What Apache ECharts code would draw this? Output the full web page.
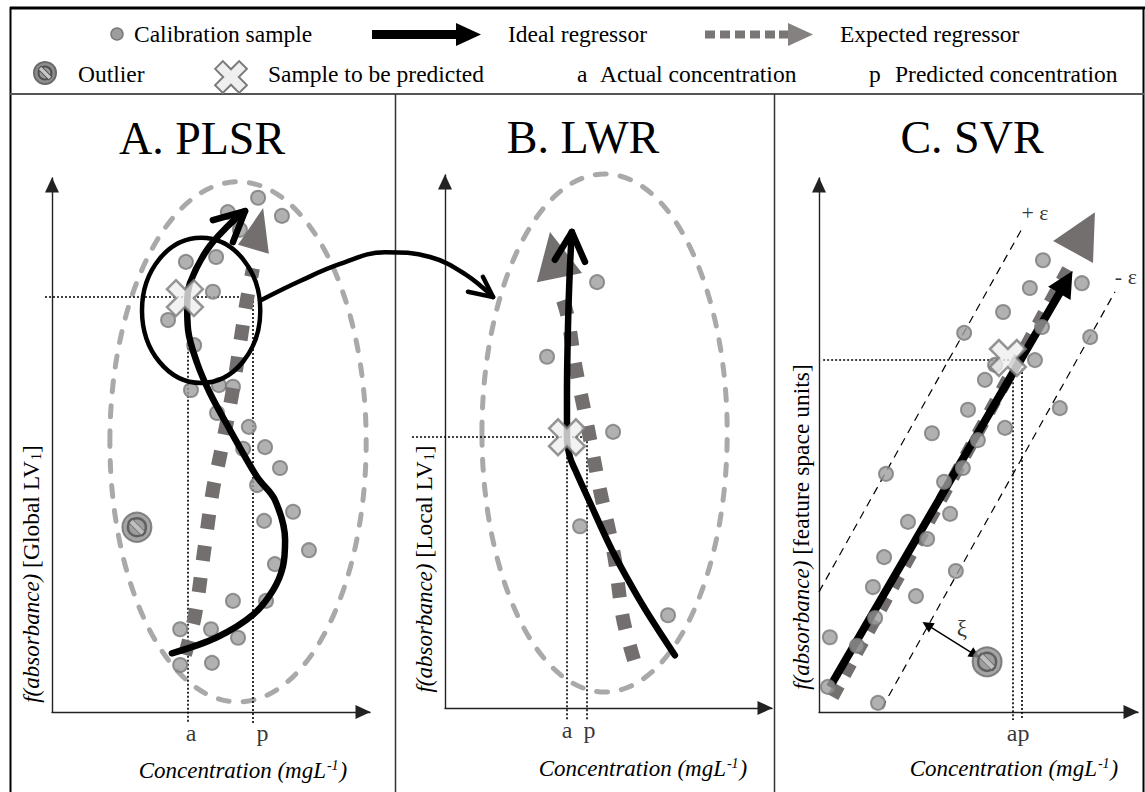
<!DOCTYPE html>
<html><head><meta charset="utf-8">
<script src="https://cdn.jsdelivr.net/npm/echarts@6/dist/echarts.min.js"></script>
<style>html,body{margin:0;padding:0;background:#fff}#c{width:1145px;height:792px}</style>
</head><body><div id="c"></div>
<script>
// ---------------- text ----------------
const panelTitles = ['A. PLSR', 'B. LWR', 'C. SVR'];
const yTitles = ['{i|f(absorbance)} [Global LV{s|1}]', '{i|f(absorbance)} [Local LV{s|1}]', '{i|f(absorbance)} [feature space units]'];
const xTitle = '{i|Concentration (mgL}{sup|-1}{i|)}';
const legendRow1 = ['Calibration sample', 'Ideal regressor', 'Expected regressor'];
const legendRow2 = ['Outlier', 'Sample to be predicted', 'a', 'Actual concentration', 'p', 'Predicted concentration'];

// ---------------- panel A : PLSR ----------------
const aSamples = [[6.48,9.63],[5.53,9.36],[7.23,9.29],[5.91,9.03],[4.21,8.43],[5.16,8.52],[5.06,7.87],[3.65,7.34],[4.47,6.87],[4.37,6.03],[5.25,6.12],[5.69,6.09],[5.19,5.60],[6.19,5.34],[6.01,4.93],[6.70,4.96],[7.17,4.57],[6.45,4.25],[7.58,3.75],[6.67,3.58],[8.08,3.03],[7.01,2.77],[5.69,2.08],[6.73,2.08],[4.03,1.55],[5.00,1.55],[5.85,1.39],[4.03,0.88],[5.03,0.92]];
const aIdeal = [[3.77,1.10],[5.19,1.40],[6.32,1.82],[6.95,2.28],[7.26,2.72],[7.33,3.22],[7.01,3.97],[6.45,4.40],[5.60,5.28],[4.97,5.97],[4.56,6.54],[4.28,7.15],[4.25,7.62],[4.34,8.03],[4.87,8.65],[5.53,9.10],[6.07,9.38]];
const aIdealHead = [[5.06,9.21],[6.07,9.38],[5.69,8.80]];
const aExpected = [[4.18,1.07],[4.50,1.82],[4.78,3.00],[5.06,4.16],[5.28,4.78],[5.66,5.94],[5.97,7.12],[6.13,7.72],[6.32,8.31]];
const aExpectedHead = [[6.64,9.44,5.85,8.75,6.82,8.58]];
const aOutlier = [[2.67,3.46]];
const aSample = [[4.18,7.75]];
const aGlobalRegion = [[5.85,5.06,4.03,4.87]];
const aLocalRegion = [[4.69,7.52,1.86,1.36]];
const aGuides = [[[-0.22,7.77],[6.30,7.77]],[[4.28,7.72],[4.28,-0.21]],[[6.30,7.77],[6.30,-0.21]]];
const aTicks = [[4.37,-0.40,'a'],[6.62,-0.40,'p']];
// link from the local region of A to panel B (same units as panel A, extended range)
const linkAB = [[6.60,7.72],[7.80,8.07],[9.06,8.39],[10.47,8.61],[11.89,8.52],[12.99,8.20],[13.87,7.77]];
const linkABHead = [[13.08,7.87],[13.87,7.77],[13.55,8.15]];

// ---------------- panel B : LWR ----------------
const bSamples = [[4.65,7.99],[3.12,6.59],[5.14,5.18],[4.13,3.41],[6.82,1.74]];
const bIdeal = [[7.03,0.99],[6.42,1.56],[5.90,2.08],[5.11,2.96],[4.37,3.94],[3.98,4.47],[3.82,4.71],[3.73,5.08],[3.73,5.87],[3.76,7.13],[3.82,8.26],[3.88,8.93]];
const bIdealHead = [[3.36,8.41],[3.88,8.93],[4.28,8.37]];
const bExpected = [[5.78,0.90],[5.44,1.69],[5.17,2.87],[4.74,4.09],[4.37,5.25],[3.98,6.44],[3.76,7.32],[3.61,7.65]];
const bExpectedHead = [[3.21,8.93,2.81,7.99,4.19,8.16]];
const bSample = [[3.73,5.08]];
const bRegion = [[4.88,5.16,3.75,4.86]];
const bGuides = [[[-1.01,5.08],[4.34,5.08]],[[3.73,5.08],[3.73,-0.23]],[[4.34,5.08],[4.34,-0.23]]];
const bTicks = [[3.73,-0.42,'a'],[4.42,-0.42,'p']];

// ---------------- panel C : SVR ----------------
const cSamples = [[7.02,8.46],[6.61,7.94],[8.24,8.03],[5.77,7.49],[4.55,7.10],[6.99,7.21],[8.50,7.02],[6.77,6.59],[5.52,6.50],[5.20,6.22],[4.67,5.66],[7.55,5.69],[3.54,5.22],[5.83,5.32],[4.98,5.09],[2.10,4.46],[4.51,4.57],[3.92,4.31],[4.11,3.71],[2.79,3.56],[3.39,3.24],[2.04,2.90],[1.69,2.34],[3.04,2.17],[4.29,2.64],[1.76,1.76],[0.34,1.40],[1.19,1.24],[0.28,0.47],[1.85,0.17]];
const cIdeal = [[[0.34,0.47],[7.74,8.05]]];
const cExpected = [[0.44,0.28],[7.81,8.31]];
const cExpectedHead = [[8.65,9.36,7.34,8.82,8.59,8.41]];
const cMargins = [[[0,2.25],[6.39,9.08]],[[1.97,0.07],[9.28,7.87]]];
const cMarginLabels = [[6.77,9.36,'+ ε'],[9.62,8.15,'- ε']];
const cSlack = [[[3.39,1.63],[4.89,1.07]]];
const cSlackLabel = [[4.48,1.56,'ξ']];
const cOutlier = [[5.27,0.94]];
const cSample = [[5.92,6.63]];
const cGuides = [[[0.13,6.59],[6.36,6.59]],[[6.08,6.40],[6.08,-0.15]],[[6.36,6.59],[6.36,-0.15]]];
const cTicks = [[6.24,-0.40,'ap']];

// ---------------- styling / building ----------------
const FAM = 'Liberation Serif';
const DOT = {color:'#9d9d9d', borderColor:'#7a7a7a', borderWidth:2};
const CROSS = 'path://M-1,-3L1,-3L1,-1L3,-1L3,1L1,1L1,3L-1,3L-1,1L-3,1L-3,-1L-1,-1Z';
const GREY = '#736f6f';

const grids = [
  {left:52, top:178, width:318, height:534},
  {left:445, top:175, width:327, height:533},
  {left:819, top:178, width:319, height:534},
  {left:52, top:178, width:318*1.4, height:534}   // overlay for the A -> B link, same units as A
];
const axisCommon = {type:'value', min:0, max:10, axisTick:{show:false}, axisLabel:{show:false}, splitLine:{show:false}};
const axLine = {show:true, onZero:false, symbol:['none','triangle'], symbolSize:[14,15], symbolOffset:[0,-7], lineStyle:{color:'#222', width:1.4}};
const xAxes = [0,1,2].map(i=>Object.assign({gridIndex:i, axisLine:axLine}, axisCommon));
const yAxes = [0,1,2].map(i=>Object.assign({gridIndex:i, axisLine:axLine}, axisCommon));
xAxes.push(Object.assign({}, axisCommon, {gridIndex:3, max:14, show:false}));
yAxes.push(Object.assign({}, axisCommon, {gridIndex:3, show:false}));

const series = [];
const AX = i => ({xAxisIndex:i, yAxisIndex:i});

function ellipse(i, data, style, z){
  series.push(Object.assign({type:'custom', coordinateSystem:'cartesian2d', data, clip:false, silent:true, z, encode:{x:0,y:1},
    renderItem:(p,api)=>{
      const c = api.coord([api.value(0), api.value(1)]);
      const s = api.size([api.value(2), api.value(3)]);
      return {type:'ellipse', shape:{cx:c[0], cy:c[1], rx:s[0], ry:s[1]}, style:Object.assign({fill:'none'}, style)};
    }}, AX(i)));
}
function triangle(i, data, color, z){
  series.push(Object.assign({type:'custom', coordinateSystem:'cartesian2d', data, clip:false, silent:true, z, encode:{x:[0,2,4], y:[1,3,5]},
    renderItem:(p,api)=>{
      const pts = [0,2,4].map(k=>api.coord([api.value(k), api.value(k+1)]));
      return {type:'polygon', shape:{points:pts}, style:{fill:color, stroke:'none'}};
    }}, AX(i)));
}
function curve(i, data, width, color, smooth, z, dash){
  series.push(Object.assign({type:'line', data, smooth:smooth, symbol:'none', clip:false, silent:true, z,
    lineStyle:{color, width, type:dash||'solid', cap:dash?'butt':'round', join:'round'}}, AX(i)));
}
function segs(i, data, style, z, sym, symSize){
  series.push(Object.assign({type:'lines', coordinateSystem:'cartesian2d', polyline:false, clip:false, silent:true, z,
    symbol: sym || ['none','none'], symbolSize: symSize || 10,
    data: data.map(c=>({coords:c})), lineStyle:Object.assign({opacity:1}, style)}, AX(i)));
}
function dots(i, data, z){
  series.push(Object.assign({type:'scatter', data, symbol:'circle', symbolSize:14, itemStyle:DOT, silent:true, clip:false, z}, AX(i)));
}
function cross(i, data, z){
  series.push(Object.assign({type:'scatter', data, symbol:CROSS, symbolSize:38, symbolRotate:45, silent:true, clip:false, z,
    itemStyle:{color:'#efefef', borderColor:'#7b7b7b', borderWidth:2.5}}, AX(i)));
}
function outlier(i, data, z){
  series.push(Object.assign({type:'scatter', data, symbol:'circle', symbolSize:29, silent:true, clip:false, z,
    itemStyle:{color:'#8e8e8e', borderColor:'#6a6a6a', borderWidth:2}}, AX(i)));
  series.push(Object.assign({type:'scatter', data, symbol:'circle', symbolSize:18, silent:true, clip:false, z:z+0.1,
    itemStyle:{color:'#9c9c9c', borderColor:'#505050', borderWidth:2.5}}, AX(i)));
  series.push(Object.assign({type:'scatter', data, symbol:'rect', symbolSize:[5,19], symbolRotate:45, silent:true, clip:false, z:z+0.2,
    itemStyle:{color:'#c8c8c8', borderColor:'#505050', borderWidth:1.2}}, AX(i)));
}
function labels(i, data, size, z){
  series.push(Object.assign({type:'scatter', data, symbolSize:0, silent:true, clip:false, z,
    label:{show:true, position:'inside', formatter:p=>p.value[2], color:'#000', fontFamily:FAM, fontSize:size}}, AX(i)));
}
const dottedStyle = {color:'#000', width:1.6, type:[2,2]};
const regionStyle = {stroke:'#a9a9a9', lineWidth:5, lineDash:[11,14], lineCap:'round'};

// Panel A
ellipse(0, aGlobalRegion, regionStyle, 1);
segs(0, aGuides, dottedStyle, 2);
dots(0, aSamples, 3);
curve(0, aExpected, 14, GREY, 0.35, 4, [15,17]);
triangle(0, aExpectedHead, GREY, 4);
outlier(0, aOutlier, 4);
ellipse(0, aLocalRegion, {stroke:'#000', lineWidth:4.5}, 5);
curve(0, aIdeal, 6.5, '#000', 0.35, 6);
curve(0, aIdealHead, 6.5, '#000', false, 6);
cross(0, aSample, 8);
labels(0, aTicks, 24, 8);
// link A -> B
curve(3, linkAB, 4.5, '#000', 0.4, 6);
curve(3, linkABHead, 4.5, '#000', false, 6);

// Panel B
ellipse(1, bRegion, regionStyle, 1);
segs(1, bGuides, dottedStyle, 2);
dots(1, bSamples, 3);
curve(1, bExpected, 14, GREY, 0.35, 4, [15,17]);
triangle(1, bExpectedHead, GREY, 4);
curve(1, bIdeal, 6.5, '#000', 0.35, 6);
curve(1, bIdealHead, 6.5, '#000', false, 6);
cross(1, bSample, 8);
labels(1, bTicks, 24, 8);

// Panel C
segs(2, cMargins, {color:'#000', width:1.2, type:[8,6]}, 2);
segs(2, cGuides, dottedStyle, 2);
curve(2, cExpected, 12, GREY, false, 3, [13,12]);
triangle(2, cExpectedHead, GREY, 3);
segs(2, cIdeal, {color:'#000', width:8}, 4, ['none','triangle'], [1,26]);
dots(2, cSamples, 5);
segs(2, cSlack, {color:'#000', width:1.5}, 5, ['triangle','triangle'], 11);
outlier(2, cOutlier, 6);
cross(2, cSample, 8);
labels(2, cMarginLabels, 22, 8);
labels(2, cSlackLabel, 23, 8);
labels(2, cTicks, 24, 8);

// ---------------- frame, titles, legend (graphic) ----------------
function txt(x, y, text, size, opts){
  return Object.assign({type:'text', x, y, silent:true, z:100,
    style:Object.assign({text, x:0, y:0, fill:'#000', fontFamily:FAM, fontSize:size, align:'left', verticalAlign:'middle',
      textAlign:'left', textVerticalAlign:'middle'}, (opts&&opts.style)||{})}, (opts&&opts.el)||{});
}
const rich = {
  i:{fontStyle:'italic', fontSize:23, fontFamily:FAM, fill:'#000'},
  s:{fontSize:14, fontFamily:FAM, fill:'#000', verticalAlign:'bottom', padding:[9,0,0,1]},
  sup:{fontStyle:'italic', fontSize:14, fontFamily:FAM, fill:'#000', verticalAlign:'top', padding:[0,1,7,1]}
};
const g = [];
// frame
g.push({type:'line', shape:{x1:10, y1:8, x2:1145, y2:8}, style:{stroke:'#000', lineWidth:3}, silent:true});
g.push({type:'line', shape:{x1:10.5, y1:7, x2:10.5, y2:792}, style:{stroke:'#000', lineWidth:2}, silent:true});
g.push({type:'line', shape:{x1:1143.5, y1:7, x2:1143.5, y2:792}, style:{stroke:'#000', lineWidth:2}, silent:true});
g.push({type:'line', shape:{x1:10, y1:94, x2:1144, y2:94}, style:{stroke:'#555', lineWidth:2}, silent:true});
g.push({type:'line', shape:{x1:395.5, y1:94, x2:395.5, y2:792}, style:{stroke:'#333', lineWidth:1.5}, silent:true});
g.push({type:'line', shape:{x1:774.5, y1:94, x2:774.5, y2:792}, style:{stroke:'#333', lineWidth:1.5}, silent:true});
// titles
[[202,138],[583,137],[972,137]].forEach((p,k)=>g.push(txt(p[0], p[1], panelTitles[k], 46, {style:{align:'center', textAlign:'center'}})));
// y titles (rotated)
[[31,574],[424,569],[801,527]].forEach((p,k)=>g.push(txt(p[0], p[1], yTitles[k], 23.5, {el:{rotation:Math.PI/2}, style:{align:'center', textAlign:'center', rich}})));
// x titles
[[243,770],[643,768],[1014,768]].forEach(p=>g.push(txt(p[0], p[1], xTitle, 23, {style:{align:'center', textAlign:'center', rich}})));
// legend row 1
g.push({type:'circle', shape:{cx:117, cy:34, r:6}, style:{fill:'#9d9d9d', stroke:'#7a7a7a', lineWidth:1.5}, silent:true});
g.push(txt(134, 34, legendRow1[0], 23.5));
g.push({type:'rect', shape:{x:372, y:30, width:86, height:9}, style:{fill:'#000'}, silent:true});
g.push({type:'polygon', shape:{points:[[456,23],[481,34.5],[456,46]]}, style:{fill:'#000'}, silent:true});
g.push(txt(508, 34, legendRow1[1], 23.5));
[705,720,735,750,765,779].forEach(x=>g.push({type:'rect', shape:{x, y:30.5, width:10, height:8}, style:{fill:'#7a7676'}, silent:true}));
g.push({type:'polygon', shape:{points:[[788,23],[813,34.5],[788,46]]}, style:{fill:'#858181'}, silent:true});
g.push(txt(840, 34, legendRow1[2], 23.5));
// legend row 2
g.push({type:'circle', shape:{cx:45, cy:73, r:11}, style:{fill:'#8e8e8e', stroke:'#6a6a6a', lineWidth:2}, silent:true});
g.push({type:'circle', shape:{cx:45, cy:73, r:6.5}, style:{fill:'#9c9c9c', stroke:'#505050', lineWidth:2}, silent:true});
g.push({type:'rect', x:45, y:73, rotation:Math.PI/4, shape:{x:-2.2, y:-7.5, width:4.4, height:15}, style:{fill:'#c8c8c8', stroke:'#505050', lineWidth:1}, silent:true});
g.push(txt(78, 74, legendRow2[0], 23.5));
g.push({type:'polygon', x:231, y:77, rotation:Math.PI/4, shape:{points:[[-5.5,-17],[5.5,-17],[5.5,-5.5],[17,-5.5],[17,5.5],[5.5,5.5],[5.5,17],[-5.5,17],[-5.5,5.5],[-17,5.5],[-17,-5.5],[-5.5,-5.5]]}, style:{fill:'#efefef', stroke:'#7b7b7b', lineWidth:2}, silent:true});
g.push(txt(268, 74, legendRow2[1], 23.5));
g.push(txt(577, 74, legendRow2[2], 23.5));
g.push(txt(600, 74, legendRow2[3], 23.5));
g.push(txt(869, 74, legendRow2[4], 23.5));
g.push(txt(895, 74, legendRow2[5], 23.5));

const chart = echarts.init(document.getElementById('c'), null, {renderer:'svg', width:1145, height:792});
chart.setOption({
  backgroundColor:'#fff',
  animation:false,
  textStyle:{fontFamily:FAM},
  grid: grids,
  xAxis: xAxes,
  yAxis: yAxes,
  series,
  graphic:{elements:g}
});
</script></body></html>
